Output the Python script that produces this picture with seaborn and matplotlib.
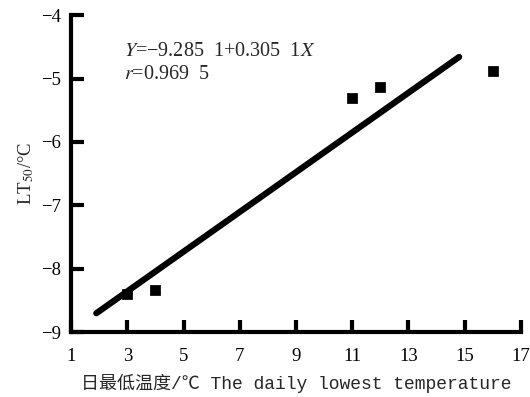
import numpy as np
import pandas as pd
import matplotlib.pyplot as plt
import seaborn as sns

# puntos medidos
temp = [3, 4, 11, 12, 16]
lt50 = [-8.39, -8.34, -5.30, -5.14, -4.88]

# extremos de la recta de regresion
fit_x = [1.9, 14.8]
fit_y = [-8.70, -4.66]

x_ticks = [1, 3, 5, 7, 9, 11, 13, 15, 17]
y_ticks = [-9, -8, -7, -6, -5, -4]

sns.set_style("white")
plt.rcParams['font.family'] = ['Liberation Serif', 'Noto Sans CJK SC']
plt.rcParams['mathtext.fontset'] = 'stix'

df = pd.DataFrame({"temp": temp, "lt50": lt50})
df_fit = pd.DataFrame({"x": fit_x, "y": fit_y})

fig = plt.figure(figsize=(5.3, 3.97), dpi=100)
ax = fig.add_axes([0.134, 0.163, 0.849, 0.799])

sns.lineplot(data=df_fit, x="x", y="y", color="black", linewidth=4.5,
             solid_capstyle="round", ax=ax)
sns.scatterplot(data=df, x="temp", y="lt50", marker="s", s=45,
                color="black", edgecolor="black", ax=ax)

ax.set_xlim(1, 17)
ax.set_ylim(-9, -4)
ax.set_xticks(x_ticks)
ax.set_yticks(y_ticks)
ax.set_yticklabels(["\u22129", "\u22128", "\u22127", "\u22126", "\u22125", "\u22124"])

for s in ["top", "right"]:
    ax.spines[s].set_visible(False)
for s in ["left", "bottom"]:
    ax.spines[s].set_linewidth(3)
    ax.spines[s].set_color("black")

ax.tick_params(direction="in", length=9, width=3, labelsize=13.5, pad=7,
               colors="black", bottom=True, left=True)
ax.tick_params(axis="x", pad=11)

ax.set_xlabel("日最低温度/℃ The daily lowest temperature", fontsize=13,
              family=['Liberation Mono', 'Noto Sans CJK SC'], labelpad=7)
ax.set_ylabel(r"LT$_{50}$/°C", fontsize=13.5, labelpad=4)

ax.text(2.9, -4.57, "$Y$=\u22129.285  1+0.305  1$X$", fontsize=14.5, va="center")
ax.text(2.9, -4.93, "$r$=0.969  5", fontsize=14.5, va="center")

fig.savefig("out.png", dpi=100)
